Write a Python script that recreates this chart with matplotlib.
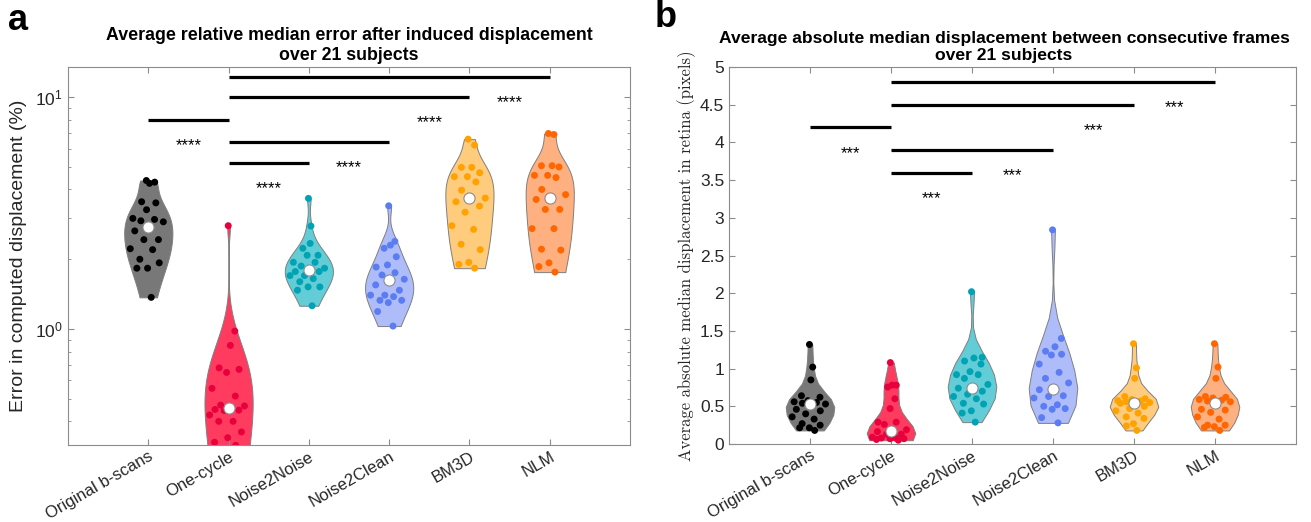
import matplotlib
matplotlib.use('Agg')
import matplotlib.pyplot as plt
import numpy as np
from matplotlib import mlab, transforms
from matplotlib.ticker import FormatStrFormatter, LogLocator, NullFormatter, FixedLocator

plt.rcParams['font.family'] = ['Liberation Sans', 'DejaVu Sans']

methods = ['Original b-scans', 'One-cycle', 'Noise2Noise', 'Noise2Clean', 'BM3D', 'NLM']

# %% panel a: relative median error (%) per subject
err_original = [4.37, 4.3, 4.25, 3.54, 3.5, 3.27, 3.0, 2.97, 2.93, 2.9, 2.76,
                2.65, 2.43, 2.43, 2.22, 2.2, 2.0, 1.93, 1.83, 1.83, 1.37]
err_onecycle = [2.79, 0.98, 0.85, 0.68, 0.67, 0.65, 0.555, 0.514, 0.47, 0.466, 0.455,
                0.45, 0.447, 0.445, 0.426, 0.40, 0.40, 0.36, 0.34, 0.325, 0.315]
err_n2n = [3.66, 2.78, 2.34, 2.23, 2.08, 2.08, 1.94, 1.94, 1.87, 1.83, 1.8,
           1.77, 1.77, 1.70, 1.70, 1.65, 1.6, 1.52, 1.52, 1.47, 1.26]
err_n2c = [3.40, 2.39, 2.30, 2.23, 2.05, 1.89, 1.85, 1.75, 1.71, 1.64, 1.62,
           1.55, 1.47, 1.40, 1.40, 1.38, 1.33, 1.33, 1.30, 1.19, 1.03]
err_bm3d = [6.59, 6.21, 4.98, 4.98, 4.72, 4.54, 4.54, 4.31, 3.97, 3.67, 3.67,
            3.54, 3.39, 3.19, 2.79, 2.69, 2.32, 2.20, 1.94, 1.90, 1.83]
err_nlm = [6.97, 6.9, 5.06, 5.06, 5.0, 4.6, 4.6, 4.5, 4.0, 3.8, 3.68,
           3.62, 3.28, 3.28, 2.71, 2.71, 2.21, 2.19, 1.93, 1.86, 1.76]

# %% panel b: absolute median displacement (pixels) per subject
disp_original = [1.32, 1.02, 0.85, 0.64, 0.62, 0.575, 0.56, 0.55, 0.54, 0.53, 0.53,
                 0.46, 0.44, 0.40, 0.36, 0.33, 0.27, 0.25, 0.215, 0.215, 0.18]
disp_onecycle = [1.08, 0.78, 0.78, 0.755, 0.6, 0.47, 0.29, 0.29, 0.26, 0.19, 0.17,
                 0.165, 0.13, 0.13, 0.09, 0.08, 0.08, 0.07, 0.07, 0.06, 0.05]
disp_n2n = [2.02, 1.15, 1.14, 1.10, 1.06, 0.96, 0.92, 0.92, 0.87, 0.79, 0.74,
            0.74, 0.70, 0.66, 0.63, 0.6, 0.54, 0.53, 0.44, 0.41, 0.29]
disp_n2c = [2.84, 1.40, 1.29, 1.23, 1.19, 1.18, 1.06, 0.95, 0.87, 0.81, 0.73,
            0.72, 0.64, 0.63, 0.61, 0.52, 0.5, 0.47, 0.46, 0.35, 0.28]
disp_bm3d = [1.33, 1.01, 0.87, 0.63, 0.60, 0.59, 0.575, 0.57, 0.56, 0.55, 0.54,
             0.54, 0.5, 0.47, 0.44, 0.41, 0.36, 0.34, 0.27, 0.24, 0.18]
disp_nlm = [1.33, 1.02, 0.87, 0.63, 0.62, 0.61, 0.59, 0.58, 0.57, 0.56, 0.54,
            0.46, 0.45, 0.42, 0.36, 0.33, 0.25, 0.25, 0.23, 0.22, 0.18]

# significance bars: (from, to, height)
sig_a = [(1, 2, 8.0), (2, 3, 5.2), (2, 4, 6.4), (2, 5, 10.0), (2, 6, 12.2)]
sig_b = [(1, 2, 4.2), (2, 3, 3.6), (2, 4, 3.9), (2, 5, 4.5), (2, 6, 4.8)]

point_colors = ['#000000', '#E8003D', '#00A3B4', '#5C7CF2', '#FFA200', '#FF6600']
fill_colors = ['#787878', '#FF3B60', '#62CDD6', '#AEBDFA', '#FFCB7D', '#FFB080']


def jitter(vals, pos, width):
    vals = np.asarray(vals)
    kde = mlab.GaussianKDE(vals, 'scott')
    grid = np.linspace(vals.min(), vals.max(), 100)
    half = 0.5 * width * kde.evaluate(vals) / kde.evaluate(grid).max()
    k = np.arange(len(vals))
    frac = ((k * 0.618034 + 0.35) % 1.0) * 2 - 1
    return pos + 0.8 * frac * half


def draw_panel(ax, data, npoints):
    pos = np.arange(1, len(data) + 1)
    parts = ax.violinplot(data, positions=pos, widths=0.6, showextrema=False,
                          points=npoints, bw_method='scott')
    for body, fc in zip(parts['bodies'], fill_colors):
        body.set_facecolor(fc)
        body.set_edgecolor('#7f7f7f')
        body.set_linewidth(0.7)
        body.set_alpha(1)
    for i, vals in enumerate(data):
        ax.scatter(jitter(vals, pos[i], 0.6), vals, s=25, color=point_colors[i],
                   edgecolors='none', zorder=3)
        ax.plot(pos[i], np.median(vals), 'o', ms=8, mfc='white', mec='#8c8c8c',
                mew=0.8, zorder=4)
    ax.set_xlim(0, 7)
    ax.set_xticks(pos)
    ax.set_xticklabels(methods, rotation=30, ha='right', rotation_mode='anchor',
                       fontsize=12)
    for sp in ax.spines.values():
        sp.set_color('#8c8c8c')
        sp.set_linewidth(0.8)
    ax.tick_params(which='both', direction='in', top=True, right=True,
                   color='#8c8c8c', labelcolor='#262626')
    ax.tick_params(axis='x', pad=3)
    ax.tick_params(axis='y', labelsize=12.5)
    ax.tick_params(which='major', length=4)
    ax.tick_params(which='minor', length=2.5)


fig = plt.figure(figsize=(13.11, 5.22), dpi=100)
ax1 = fig.add_axes([68 / 1311, 77 / 522, 562 / 1311, 378 / 522])
ax2 = fig.add_axes([729 / 1311, 78 / 522, 567 / 1311, 377 / 522])

# %% panel a
data_a = [err_original, err_onecycle, err_n2n, err_n2c, err_bm3d, err_nlm]
ax1.set_yscale('log')
draw_panel(ax1, data_a, 200)
ax1.set_ylim(10 ** -0.5, 10 ** 1.13)
ax1.yaxis.set_major_locator(FixedLocator([1, 10]))
ax1.yaxis.set_minor_locator(LogLocator(base=10, subs=np.arange(2, 10)))
ax1.yaxis.set_minor_formatter(NullFormatter())
ax1.set_ylabel('Error in computed displacement (%)', fontsize=14, color='#262626',
               labelpad=6)
ax1.set_title('Average relative median error after induced displacement\nover 21 subjects',
              fontsize=12.8, fontweight='bold', pad=5)

star_off = transforms.offset_copy(ax1.transData, fig=fig, y=-4, units='points')
for x0, x1, h in sig_a:
    ax1.plot([x0, x1], [h, h], color='black', lw=2.3, solid_capstyle='butt')
    ax1.text(x1 - 0.5, h * 0.82, '****', ha='center', va='center', fontsize=12,
             transform=star_off)

# %% panel b
data_b = [disp_original, disp_onecycle, disp_n2n, disp_n2c, disp_bm3d, disp_nlm]
draw_panel(ax2, data_b, 12)
ax2.set_ylim(0, 5)
ax2.set_yticks(np.arange(0, 5.01, 0.5))
ax2.yaxis.set_major_formatter(FormatStrFormatter('%g'))
ax2.set_ylabel('Average absolute median displacement in retina (pixels)',
               family='cmr10', fontsize=12, color='#262626', labelpad=3)
ax2.set_title('Average absolute median displacement between consecutive frames\nover 21 subjects',
              fontsize=12.6, fontweight='bold', pad=5, x=0.485)

star_off2 = transforms.offset_copy(ax2.transData, fig=fig, y=-4, units='points')
for x0, x1, h in sig_b:
    ax2.plot([x0, x1], [h, h], color='black', lw=2.3, solid_capstyle='butt')
    ax2.text(x1 - 0.5, h - 0.27, '***', ha='center', va='center', fontsize=12,
             transform=star_off2)

fig.text(0.006, 0.995, 'a', fontsize=26, fontweight='bold', va='top')
fig.text(0.499, 1.0, 'b', fontsize=26, fontweight='bold', va='top')

plt.savefig('out.png', dpi=100)
